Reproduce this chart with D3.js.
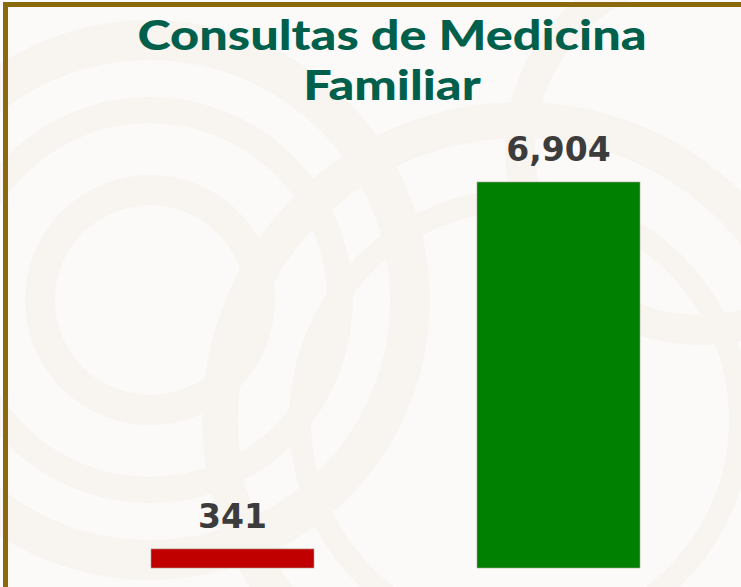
<!DOCTYPE html>
<html>
<head>
<meta charset="utf-8" />
<style>
  body { margin: 0; background: #ffffff; }
  svg { display: block; }
</style>
<script src="https://cdnjs.cloudflare.com/ajax/libs/d3/7.8.5/d3.min.js"></script>
</head>
<body>
<div id="graph"></div>
<script>
// data
var categories = ["Periodo anterior", "Periodo actual"];
var values = [341, 6904];
var barColors = ["#c00000", "#008000"];
var titleLines = ["Consultas de Medicina", "Familiar"];

var w = 741, h = 587;

var svg = d3.select("#graph").append("svg")
    .attr("width", w)
    .attr("height", h);

// background panel
svg.append("rect")
    .attr("x", 3).attr("y", 2)
    .attr("width", w - 3).attr("height", h - 2)
    .attr("fill", "#fcfaf8");

// faint decorative swirls
var deco = svg.append("g").attr("fill", "none").attr("stroke", "#f4eee7").attr("opacity", 0.45);
[[150, 300, 260, 40], [150, 300, 190, 26], [150, 300, 110, 30],
 [520, 420, 300, 36], [520, 420, 220, 22], [700, 150, 180, 30]].forEach(function (c) {
    deco.append("circle")
        .attr("cx", c[0]).attr("cy", c[1]).attr("r", c[2])
        .attr("stroke-width", c[3]);
});

// border, left and top
svg.append("path")
    .attr("d", "M5.5," + h + "V4.5H" + w)
    .attr("fill", "none")
    .attr("stroke", "#8a6a0c")
    .attr("stroke-width", 5);

// title, one text per line, widened to look like the original wide face
svg.selectAll(".title")
    .data(titleLines)
    .enter().append("text")
    .attr("class", "title")
    .attr("text-anchor", "middle")
    .attr("x", 392)
    .attr("y", function (d, i) { return 50 + i * 50; })
    .attr("fill", "#00604c")
    .style("font-family", "Lato, sans-serif")
    .style("font-weight", 900)
    .style("font-size", "41px")
    .text(function (d) { return d; })
    .each(function () {
        var len = this.getComputedTextLength();
        d3.select(this)
            .attr("textLength", len * 1.23)
            .attr("lengthAdjust", "spacingAndGlyphs");
    });

// scales
var xScale = d3.scaleBand()
    .domain(categories)
    .range([151, 640])
    .paddingInner(0.5)
    .paddingOuter(0);

var yScale = d3.scaleLinear()
    .domain([0, d3.max(values)])
    .range([568, 182]);

var data = categories.map(function (c, i) { return { cat: c, value: values[i], color: barColors[i] }; });

svg.selectAll(".bar")
    .data(data)
    .enter().append("rect")
    .attr("class", "bar")
    .attr("x", function (d) { return xScale(d.cat); })
    .attr("y", function (d) { return yScale(d.value); })
    .attr("width", xScale.bandwidth())
    .attr("height", function (d) { return yScale(0) - yScale(d.value); })
    .attr("fill", function (d) { return d.color; })
    .attr("stroke", "#b0a090")
    .attr("stroke-width", 0.6);

svg.selectAll(".label")
    .data(data)
    .enter().append("text")
    .attr("class", "label")
    .attr("text-anchor", "middle")
    .attr("x", function (d) { return xScale(d.cat) + xScale.bandwidth() / 2; })
    .attr("y", function (d) { return yScale(d.value) - 21; })
    .attr("fill", "#3c3c3c")
    .style("font-family", "'DejaVu Sans', sans-serif")
    .style("font-weight", 700)
    .style("font-size", "33px")
    .text(function (d) { return d3.format(",")(d.value); });
</script>
</body>
</html>
